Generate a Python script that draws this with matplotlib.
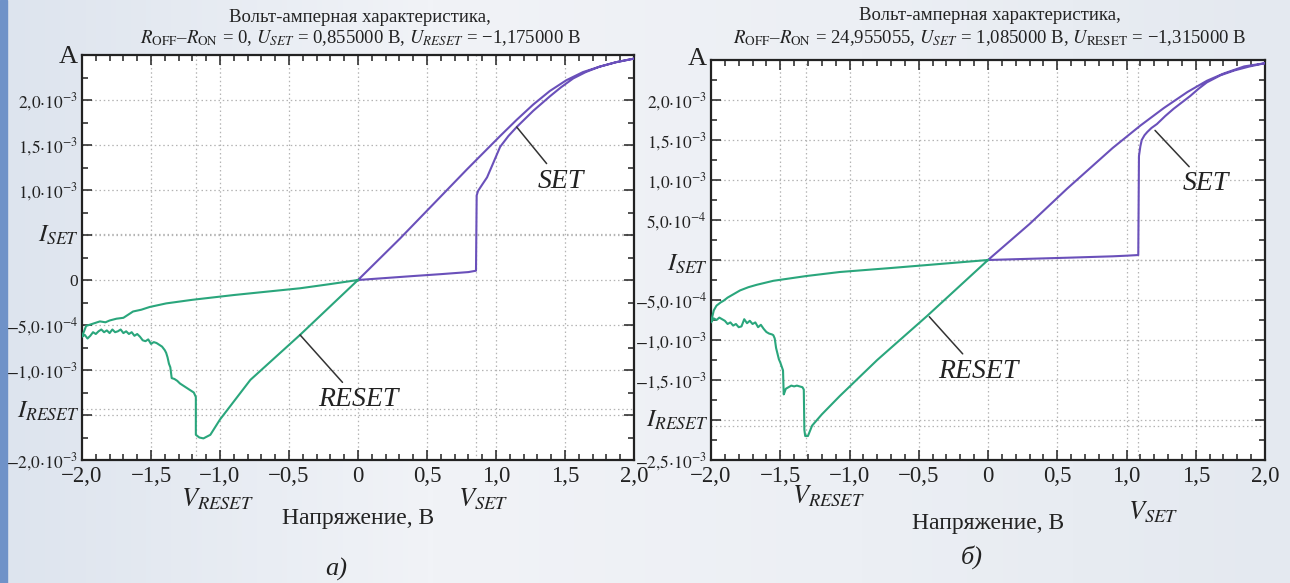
import numpy as np
import matplotlib
matplotlib.use("Agg")
import matplotlib.pyplot as plt
from matplotlib.patches import Rectangle
from matplotlib.ticker import FixedLocator, FixedFormatter, MultipleLocator

plt.rcParams['font.family'] = ['Liberation Serif', 'DejaVu Serif']
plt.rcParams['mathtext.fontset'] = 'stix'

# ---- а) R_OFF-R_ON = 0 ----
a_v_set, a_v_reset = 0.855, -1.175
a_i_set, a_i_reset = 0.51e-3, -1.434e-3

# SET sweep: 0 -> +2 -> 0
a_hrs_up_v = [0, 0.2, 0.4, 0.6, 0.8, 0.855]
a_hrs_up_i = [0, 2.2e-5, 4.4e-5, 6.5e-5, 8.8e-5, 1.03e-4]

a_set_v = [0.86, 0.87, 0.9, 0.935, 0.98, 1.03, 1.09, 1.15, 1.21, 1.27,
           1.33, 1.39, 1.47, 1.56, 1.65, 1.75, 1.87, 2.0]
a_set_i = [9.4e-4, 9.9e-4, 1.06e-3, 1.14e-3, 1.30e-3, 1.48e-3, 1.60e-3,
           1.70e-3, 1.79e-3, 1.88e-3, 1.96e-3, 2.04e-3, 2.14e-3, 2.24e-3,
           2.31e-3, 2.37e-3, 2.42e-3, 2.46e-3]

a_lrs_down_v = [1.87, 1.75, 1.63, 1.51, 1.39, 1.27, 1.15, 1.03, 0.79, 0.544,
                0.304, 0]
a_lrs_down_i = [2.42e-3, 2.37e-3, 2.31e-3, 2.22e-3, 2.10e-3, 1.95e-3, 1.78e-3,
                1.60e-3, 1.23e-3, 0.84e-3, 0.46e-3, 0]

# RESET sweep: 0 -> -2 -> 0
a_lrs_neg_v = [0, -0.42, -0.78, -1.0, -1.07, -1.12, -1.15, -1.175]
a_lrs_neg_i = [0, -0.61e-3, -1.11e-3, -1.55e-3, -1.72e-3, -1.76e-3,
               -1.75e-3, -1.72e-3]

a_reset_v = [-1.175, -1.19, -1.22, -1.25, -1.27, -1.29, -1.31, -1.33, -1.35,
             -1.355, -1.36, -1.37, -1.38, -1.39, -1.40, -1.42, -1.44, -1.46,
             -1.48, -1.50, -1.52, -1.54, -1.56, -1.58, -1.60, -1.62, -1.64,
             -1.66, -1.68, -1.70, -1.72, -1.74, -1.76, -1.78, -1.80, -1.82,
             -1.84, -1.86, -1.88, -1.90, -1.92, -1.94, -1.96, -1.98, -2.0]
a_reset_i = [-1.30e-3, -1.25e-3, -1.22e-3, -1.19e-3, -1.17e-3, -1.15e-3,
             -1.12e-3, -1.10e-3, -1.09e-3, -1.03e-3, -0.97e-3, -0.93e-3,
             -0.86e-3, -0.81e-3, -0.78e-3, -0.74e-3, -0.72e-3, -0.70e-3,
             -0.69e-3, -0.71e-3, -0.66e-3, -0.68e-3, -0.67e-3, -0.63e-3,
             -0.60e-3, -0.62e-3, -0.58e-3, -0.60e-3, -0.57e-3, -0.59e-3,
             -0.55e-3, -0.57e-3, -0.58e-3, -0.55e-3, -0.59e-3, -0.56e-3,
             -0.58e-3, -0.55e-3, -0.57e-3, -0.60e-3, -0.58e-3, -0.62e-3,
             -0.65e-3, -0.61e-3, -0.63e-3]

a_hrs_back_v = [-1.97, -1.93, -1.87, -1.83, -1.80, -1.75, -1.70, -1.66,
                -1.63, -1.57, -1.51, -1.45, -1.39, -1.2, -0.9, -0.6, -0.42,
                -0.2, 0]
a_hrs_back_i = [-0.51e-3, -0.49e-3, -0.46e-3, -0.47e-3, -0.45e-3,
                -0.43e-3, -0.42e-3, -0.38e-3, -0.35e-3, -0.33e-3, -0.30e-3,
                -0.28e-3, -0.26e-3, -0.22e-3, -0.167e-3, -0.12e-3, -0.092e-3,
                -0.045e-3, 0]

# ---- б) R_OFF-R_ON = 24,955055 ----
b_v_set, b_v_reset = 1.085, -1.315
b_i_set, b_i_reset = 0.0, -2.07e-3

b_hrs_up_v = [0, 0.3, 0.6, 0.9, 1.0, 1.085]
b_hrs_up_i = [0, 1.5e-5, 3.0e-5, 4.6e-5, 5.4e-5, 6.2e-5]

b_set_v = [1.09, 1.10, 1.11, 1.13, 1.15, 1.18, 1.22, 1.28, 1.34, 1.40,
           1.46, 1.52, 1.58, 1.68, 1.78, 1.89, 2.0]
b_set_i = [1.30e-3, 1.42e-3, 1.50e-3, 1.56e-3, 1.60e-3, 1.65e-3,
           1.70e-3, 1.80e-3, 1.89e-3, 1.97e-3, 2.05e-3, 2.14e-3, 2.22e-3,
           2.31e-3, 2.37e-3, 2.42e-3, 2.46e-3]

b_lrs_down_v = [1.85, 1.70, 1.58, 1.44, 1.27, 1.10, 0.9, 0.57, 0.3, 0]
b_lrs_down_i = [2.42e-3, 2.33e-3, 2.24e-3, 2.10e-3, 1.90e-3, 1.68e-3,
                1.40e-3, 0.89e-3, 0.45e-3, 0]

b_lrs_neg_v = [0, -0.44, -0.8, -1.07, -1.2, -1.27, -1.30, -1.32, -1.326]
b_lrs_neg_i = [0, -0.70e-3, -1.25e-3, -1.70e-3, -1.93e-3, -2.07e-3,
               -2.20e-3, -2.20e-3, -2.12e-3]

b_reset_v = [-1.33, -1.34, -1.36, -1.38, -1.40, -1.42, -1.44, -1.46,
             -1.47, -1.475, -1.48, -1.50, -1.51, -1.53, -1.54, -1.55, -1.56,
             -1.58, -1.60, -1.62, -1.64, -1.66, -1.68, -1.70, -1.72, -1.74,
             -1.76, -1.78, -1.80, -1.82, -1.84, -1.86, -1.88, -1.90, -1.92,
             -1.94, -1.96, -1.98, -2.0]
b_reset_i = [-1.62e-3, -1.59e-3, -1.58e-3, -1.57e-3, -1.58e-3,
             -1.57e-3, -1.59e-3, -1.61e-3, -1.66e-3, -1.68e-3, -1.38e-3,
             -1.28e-3, -1.24e-3, -1.10e-3, -0.98e-3, -0.94e-3, -0.93e-3,
             -0.92e-3, -0.90e-3, -0.86e-3, -0.81e-3, -0.84e-3, -0.78e-3,
             -0.80e-3, -0.76e-3, -0.79e-3, -0.74e-3, -0.83e-3, -0.84e-3,
             -0.80e-3, -0.82e-3, -0.78e-3, -0.80e-3, -0.76e-3, -0.74e-3,
             -0.72e-3, -0.75e-3, -0.73e-3, -0.78e-3]

b_hrs_back_v = [-1.98, -1.96, -1.93, -1.91, -1.88, -1.84, -1.79, -1.73,
                -1.67, -1.55, -1.31, -1.07, -0.7, -0.35, 0]
b_hrs_back_i = [-0.63e-3, -0.57e-3, -0.53e-3, -0.51e-3, -0.47e-3,
                -0.43e-3, -0.38e-3, -0.34e-3, -0.31e-3, -0.26e-3, -0.20e-3,
                -0.15e-3, -0.10e-3, -0.05e-3, 0]

x_ticks = [-2.0, -1.5, -1.0, -0.5, 0, 0.5, 1.0, 1.5, 2.0]
x_labels = ['\u22122,0', '\u22121,5', '\u22121,0', '\u22120,5', '0',
            '0,5', '1,0', '1,5', '2,0']

a_y_ticks = [-2e-3, -1.5e-3, -1e-3, -5e-4, 0, 5e-4, 1e-3, 1.5e-3, 2e-3]
a_y_labels = [r'$-2{,}0{\cdot}10^{-3}$', '', r'$-1{,}0{\cdot}10^{-3}$',
              r'$-5{,}0{\cdot}10^{-4}$', '0', '',
              r'$1{,}0{\cdot}10^{-3}$', r'$1{,}5{\cdot}10^{-3}$',
              r'$2{,}0{\cdot}10^{-3}$']

b_y_ticks = [-2.5e-3, -2e-3, -1.5e-3, -1e-3, -5e-4, 0, 5e-4, 1e-3, 1.5e-3, 2e-3]
b_y_labels = [r'$-2{,}5{\cdot}10^{-3}$', '', r'$-1{,}5{\cdot}10^{-3}$',
              r'$-1{,}0{\cdot}10^{-3}$', r'$-5{,}0{\cdot}10^{-4}$', '',
              r'$5{,}0{\cdot}10^{-4}$', r'$1{,}0{\cdot}10^{-3}$',
              r'$1{,}5{\cdot}10^{-3}$', r'$2{,}0{\cdot}10^{-3}$']

SET_COLOR = '#6a50ba'
RESET_COLOR = '#2aa67c'
INK = '#222222'
GRID = dict(color='#b4b4b4', linestyle=(0, (1.2, 2.2)), linewidth=0.9, zorder=1)

fig = plt.figure(figsize=(12.9, 5.83), dpi=100)
fig.patch.set_facecolor('#e9edf3')

# light backdrop with a soft horizontal gradient
bg = fig.add_axes([0, 0, 1, 1], zorder=-10)
grad = np.linspace(0, 1, 256)[None, :]
bg.imshow(grad, aspect='auto', extent=[0, 1, 0, 1],
          cmap=matplotlib.colors.LinearSegmentedColormap.from_list(
              'bg', ['#dde4ee', '#f1f3f7', '#eceff4', '#e4e9f0']))
bg.add_patch(Rectangle((0, 0), 0.0055, 1, color='#6f92c8', zorder=2))
bg.set_xlim(0, 1)
bg.set_ylim(0, 1)
bg.axis('off')


def draw_panel(rect, ylim, yt, yl, v_set, v_reset, i_set, i_reset,
               set_loop, reset_loop, set_ann, reset_ann, vlabels, ilabels,
               xlabel_y):
    ax = fig.add_axes(rect)
    ax.set_facecolor('white')
    ax.set_xlim(-2, 2)
    ax.set_ylim(*ylim)

    for xv in x_ticks[1:-1] + [v_set, v_reset]:
        ax.axvline(xv, **GRID)
    for yv in yt[1:] + [i_set, i_reset]:
        ax.axhline(yv, **GRID)

    # each loop is drawn as one continuous trace
    for parts, c in ((set_loop, SET_COLOR), (reset_loop, RESET_COLOR)):
        v = np.concatenate([p[0] for p in parts])
        i = np.concatenate([p[1] for p in parts])
        ax.plot(v, i, color=c, lw=1.5, zorder=3, solid_joinstyle='round')

    ax.xaxis.set_major_locator(FixedLocator(x_ticks))
    ax.xaxis.set_major_formatter(FixedFormatter(x_labels))
    ax.xaxis.set_minor_locator(MultipleLocator(0.1))
    ax.yaxis.set_major_locator(FixedLocator(yt))
    ax.yaxis.set_major_formatter(FixedFormatter(yl))
    ax.yaxis.set_minor_locator(MultipleLocator(2.5e-4))
    ax.tick_params(which='both', direction='in', top=True, right=True,
                   color=INK, width=1.1)
    ax.tick_params(which='major', length=7)
    ax.tick_params(which='minor', length=4)
    ax.tick_params(axis='x', labelsize=16.5, pad=4, colors=INK)
    ax.tick_params(axis='y', labelsize=12.5, pad=3, colors=INK)
    for s in ax.spines.values():
        s.set_linewidth(1.6)
        s.set_color(INK)

    # I_SET / I_RESET markers on the current axis
    for (yv, txt) in ilabels:
        ax.text(-0.005, yv, txt, transform=ax.get_yaxis_transform(),
                ha='right', va='center', fontsize=18, color=INK)

    # V_SET / V_RESET markers under the voltage axis
    for (xv, yv, txt) in vlabels:
        ax.text(xv, yv, txt, transform=ax.get_xaxis_transform(),
                ha='center', va='center', fontsize=19, color=INK)

    ax.text(0.5, xlabel_y, 'Напряжение, В', transform=ax.transAxes,
            ha='center', va='center', fontsize=17, color=INK)

    for (xy, xyt, txt) in (set_ann, reset_ann):
        ax.annotate(txt, xy=xy, xytext=xyt, ha='center', va='center',
                    fontsize=20, style='italic', color=INK,
                    arrowprops=dict(arrowstyle='-', color='#333333', lw=1.1,
                                    shrinkA=2, shrinkB=0))
    return ax


ax_a = draw_panel(
    [82 / 1290, 123 / 583, 552 / 1290, 405 / 583], (-2e-3, 2.5e-3),
    a_y_ticks, a_y_labels, a_v_set, a_v_reset, a_i_set, a_i_reset,
    [(a_hrs_up_v, a_hrs_up_i), (a_set_v, a_set_i),
     (a_lrs_down_v, a_lrs_down_i)],
    [(a_lrs_neg_v, a_lrs_neg_i), (a_reset_v, a_reset_i),
     (a_hrs_back_v, a_hrs_back_i)],
    ((1.15, 1.70e-3), (1.47, 1.10e-3), 'SET'),
    ((-0.42, -0.61e-3), (0.0, -1.33e-3), 'RESET'),
    [(-1.02, -0.097, r'$V_{RESET}$'), (0.91, -0.097, r'$V_{SET}$')],
    [(0.5e-3, r'$I_{SET}$'), (-1.46e-3, r'$I_{RESET}$')],
    -0.145)

ax_b = draw_panel(
    [711 / 1290, 123 / 583, 554 / 1290, 400 / 583], (-2.5e-3, 2.5e-3),
    b_y_ticks, b_y_labels, b_v_set, b_v_reset, b_i_set, b_i_reset,
    [(b_hrs_up_v, b_hrs_up_i), (b_set_v, b_set_i),
     (b_lrs_down_v, b_lrs_down_i)],
    [(b_lrs_neg_v, b_lrs_neg_i), (b_reset_v, b_reset_i),
     (b_hrs_back_v, b_hrs_back_i)],
    ((1.206, 1.62e-3), (1.57, 0.95e-3), 'SET'),
    ((-0.424, -0.709e-3), (-0.07, -1.39e-3), 'RESET'),
    [(-1.15, -0.09, r'$V_{RESET}$'), (1.19, -0.13, r'$V_{SET}$')],
    [(-0.05e-3, r'$I_{SET}$'), (-2.0e-3, r'$I_{RESET}$')],
    -0.16)

# Titles
title_a = ('Вольт-амперная характеристика,',
           r'$R_{\mathrm{OFF}}$–$R_{\mathrm{ON}}$ = 0, $U_{SET}$ = 0,855000 В, '
           r'$U_{RESET}$ = −1,175000 В')
title_b = ('Вольт-амперная характеристика,',
           r'$R_{\mathrm{OFF}}$–$R_{\mathrm{ON}}$ = 24,955055, '
           r'$U_{SET}$ = 1,085000 В, $U_{\mathrm{RESET}}$ = −1,315000 В')
for xc, (l1, l2), y1 in ((360, title_a, 17), (990, title_b, 15)):
    fig.text(xc / 1290, 1 - y1 / 583, l1, ha='center', va='center',
             fontsize=13.5, color=INK)
    fig.text(xc / 1290, 1 - 38 / 583, l2, ha='center', va='center',
             fontsize=13.5, color=INK)

# Current unit above each y axis
fig.text(68 / 1290, 1 - 57 / 583, 'A', ha='center', va='center',
         fontsize=19, color=INK)
fig.text(697 / 1290, 1 - 59 / 583, 'A', ha='center', va='center',
         fontsize=19, color=INK)

fig.text(336 / 1290, 1 - 569 / 583, 'а)', ha='center', va='center',
         fontsize=19, style='italic', color=INK)
fig.text(972 / 1290, 1 - 557 / 583, 'б)', ha='center', va='center',
         fontsize=19, style='italic', color=INK)

fig.savefig('out.png', dpi=100, facecolor=fig.get_facecolor())
